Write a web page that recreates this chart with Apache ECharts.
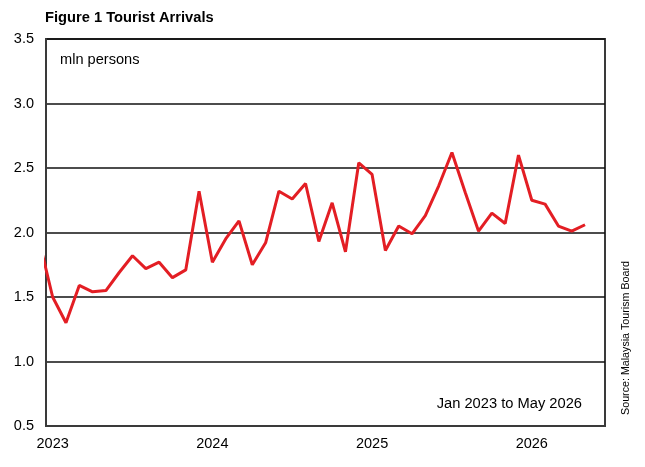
<!DOCTYPE html>
<html>
<head>
<meta charset="UTF-8">
<title>Tourist Arrivals</title>
<script src="https://cdn.jsdelivr.net/npm/echarts@6/dist/echarts.min.js"></script>
<style>
	html, body { margin: 0; padding: 0; background: #fff; }
	#main { width: 645px; height: 467px; }
</style>
</head>
<body>
<div id="main"></div>
<script type="text/javascript">
	// monthly arrivals, mln persons; first value is Dec 2022 (cut off at the left edge)
	var arrivals = [1.93,
		1.50, 1.30, 1.59, 1.54, 1.55, 1.69, 1.82, 1.72, 1.77, 1.65, 1.71, 2.32,
		1.77, 1.95, 2.09, 1.75, 1.92, 2.32, 2.26, 2.38, 1.93, 2.23, 1.85, 2.54,
		2.45, 1.86, 2.05, 1.99, 2.13, 2.36, 2.62, 2.31, 2.01, 2.15, 2.07, 2.60,
		2.25, 2.22, 2.05, 2.01, 2.06];
	var firstMonth = -1; // months after Jan 2023
	var yearTicks = [0, 12, 24, 36];
	var yearLabels = ['2023', '2024', '2025', '2026'];

	var points = [];
	for (var i = 0; i < arrivals.length; i++) {
		points.push([firstMonth + i, arrivals[i]]);
	}

	var font = 'Arial, "Liberation Sans", sans-serif';
	var myChart = echarts.init(document.getElementById('main'));
	var option = {
		animation: false,
		backgroundColor: '#fff',
		grid: {
			left: 46, right: 40, top: 39, bottom: 41,
			show: true, borderColor: '#3a3a3a', borderWidth: 2
		},
		xAxis: {
			type: 'value',
			min: -0.5,
			max: 41.5,
			splitLine: { show: false },
			axisTick: { show: false },
			axisLine: { show: true, onZero: false, lineStyle: { color: '#3a3a3a', width: 2 } },
			axisLabel: {
				customValues: yearTicks,
				color: '#000',
				fontSize: 14.5,
				fontFamily: font,
				margin: 10,
				formatter: function (v) {
					return yearLabels[yearTicks.indexOf(Math.round(v))] || '';
				}
			}
		},
		yAxis: {
			type: 'value',
			min: 0.5,
			max: 3.5,
			interval: 0.5,
			axisTick: { show: false },
			axisLine: { show: true, onZero: false, lineStyle: { color: '#3a3a3a', width: 2 } },
			splitLine: { lineStyle: { color: '#111', width: 1.5 } },
			axisLabel: {
				color: '#000',
				fontSize: 14.5,
				fontFamily: font,
				margin: 12,
				formatter: function (v) { return v.toFixed(1); }
			}
		},
		series: [{
			type: 'line',
			data: points,
			showSymbol: false,
			symbol: 'none',
			clip: true,
			lineStyle: { color: '#e31e24', width: 3 }
		}],
		graphic: [
			{ type: 'text', left: 45, top: 10, style: { text: 'Figure 1 Tourist Arrivals', fontSize: 14.7, fontWeight: 'bold', fontFamily: font, fill: '#000' } },
			{ type: 'text', left: 60, top: 52, style: { text: 'mln persons', fontSize: 14.6, fontFamily: font, fill: '#000' } },
			{ type: 'text', right: 63, top: 396, style: { text: 'Jan 2023 to May 2026', fontSize: 14.7, fontFamily: font, fill: '#000' } },
			{ type: 'text', x: 626, y: 338, rotation: Math.PI / 2,
				style: { text: 'Source: Malaysia Tourism Board', fontSize: 10.7, fontFamily: font, fill: '#000', align: 'center', verticalAlign: 'middle' } }
		]
	};
	myChart.setOption(option);
</script>
</body>
</html>
